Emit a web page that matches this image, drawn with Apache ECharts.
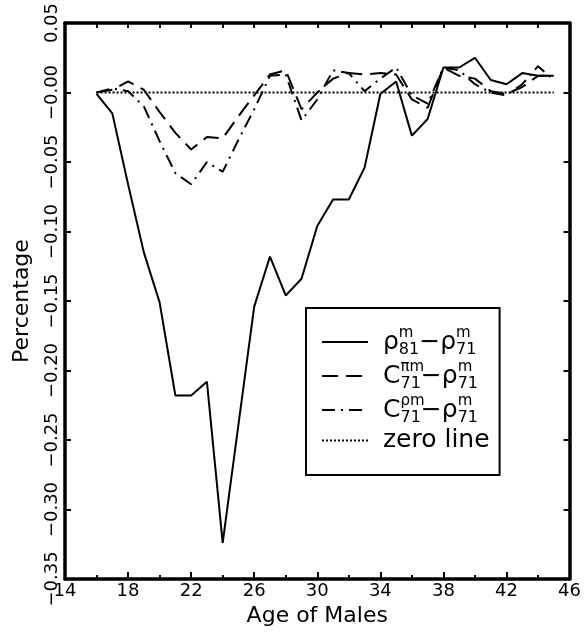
<!DOCTYPE html>
<html><head><meta charset="utf-8">
<script src="https://cdn.jsdelivr.net/npm/echarts@6/dist/echarts.min.js"></script>
<style>html,body{margin:0;padding:0;background:#fff}#c{width:584px;height:640px}</style>
</head><body><div id="c"></div>
<script>
const ages = [16,17,18,19,20,21,22,23,24,25,26,27,28,29,30,31,32,33,34,35,36,37,38,39,40,41,42,43,44,45];
const rhoDiff = [-0.001,-0.015,-0.066,-0.115,-0.151,-0.218,-0.218,-0.208,-0.324,-0.239,-0.154,-0.118,-0.146,-0.134,-0.096,-0.077,-0.077,-0.054,-0.001,0.008,-0.031,-0.019,0.018,0.018,0.025,0.009,0.006,0.014,0.012,0.012];
const cPiDiff = [0.000,0.002,0.008,0.002,-0.014,-0.029,-0.041,-0.032,-0.033,-0.017,-0.002,0.013,0.016,-0.012,0.000,0.010,0.014,0.013,0.014,0.013,-0.005,-0.011,0.018,0.012,0.010,0.001,-0.001,0.004,0.012,0.012];
const cRhoDiff = [0.000,0.003,0.001,-0.010,-0.035,-0.058,-0.066,-0.050,-0.057,-0.034,-0.012,0.012,0.013,-0.020,-0.005,0.016,0.014,0.001,0.010,0.018,-0.002,-0.008,0.018,0.016,0.006,0.000,-0.002,0.006,0.019,0.009];
const zeroLine = [0,0,0,0,0,0,0,0,0,0,0,0,0,0,0,0,0,0,0,0,0,0,0,0,0,0,0,0,0,0];
const xTickLabels = ['14','18','22','26','30','34','38','42','46'];
const yTickLabels = ['\u22120.35','\u22120.30','\u22120.25','\u22120.20','\u22120.15','\u22120.10','\u22120.05','\u22120.00','0.05'];
const seriesNames = ['rho81m-rho71m','Cpi71m-rho71m','Crho71m-rho71m','zero line'];
const legendLabels = [
  '{g|\u03c1}{sp|m}{sb|81}{g|\u2212\u03c1}{sp|m}{sb|71}',
  '{g|C}{sp|\u03c0m}{sb|71}{g|\u2212\u03c1}{sp|m}{sb|71}',
  '{g|C}{sp|\u03c1m}{sb|71}{g|\u2212\u03c1}{sp|m}{sb|71}',
  '{g|zero line}'
];

const FONT = 'DejaVu Sans';
const xMin = 14, xMax = 46, xStep = 4;
const yMin = -0.35, yMax = 0.05, yStep = 0.05;

function pairs(vals){ return ages.map((a,i)=>[a, vals[i]]); }
function xFmt(v){ const i = Math.round((v - xMin)/xStep); return xTickLabels[i] || ''; }
function yFmt(v){ const i = Math.round((v - yMin)/yStep); return yTickLabels[i] || ''; }

const axisLineStyle = {show:true, onZero:false, lineStyle:{color:'#000', width:3.5}};
const chart = echarts.init(document.getElementById('c'), null, {renderer:'canvas'});
chart.setOption({
  animation:false,
  backgroundColor:'#fff',
  grid:{left:65, right:12, top:20, bottom:61, containLabel:false},
  xAxis:[{
    type:'value', min:xMin, max:xMax, interval:xStep, position:'bottom',
    axisLine:axisLineStyle,
    axisTick:{show:true, inside:true, length:7, lineStyle:{color:'#000', width:2}},
    minorTick:{show:true, splitNumber:2, length:4, lineStyle:{color:'#000', width:2}},
    splitLine:{show:false}, minorSplitLine:{show:false},
    axisLabel:{formatter:xFmt, color:'#000', fontFamily:FONT, fontSize:18, margin:3},
    name:'Age of Males', nameLocation:'middle', nameGap:20,
    nameTextStyle:{color:'#000', fontFamily:FONT, fontSize:22}
  },{
    type:'value', min:xMin, max:xMax, interval:xStep/2, position:'top',
    axisLine:axisLineStyle,
    axisTick:{show:true, inside:true, length:5, lineStyle:{color:'#000', width:2}},
    splitLine:{show:false}, axisLabel:{show:false}
  }],
  yAxis:[{
    type:'value', min:yMin, max:yMax, interval:yStep, position:'left',
    axisLine:axisLineStyle,
    axisTick:{show:true, inside:true, length:6, lineStyle:{color:'#000', width:2}},
    splitLine:{show:false},
    axisLabel:{formatter:yFmt, rotate:90, color:'#000', fontFamily:FONT, fontSize:18, margin:4},
    name:'Percentage', nameLocation:'middle', nameGap:32, nameRotate:90,
    nameTextStyle:{color:'#000', fontFamily:FONT, fontSize:22}
  },{
    type:'value', min:yMin, max:yMax, interval:yStep, position:'right',
    axisLine:axisLineStyle,
    axisTick:{show:true, inside:true, length:6, lineStyle:{color:'#000', width:2}},
    splitLine:{show:false}, axisLabel:{show:false}
  }],
  legend:{
    orient:'vertical', left:306, top:308,
    padding:[18, 10, 22, 15],
    borderColor:'#000', borderWidth:2, backgroundColor:'#fff',
    itemWidth:46, itemHeight:14, itemGap:2,
    itemStyle:{color:'transparent', borderColor:'transparent', borderWidth:0, opacity:0},
    data:seriesNames,
    formatter:function(name){ return legendLabels[seriesNames.indexOf(name)]; },
    textStyle:{
      color:'#000', fontFamily:FONT, fontSize:25, padding:[0,0,0,10],
      rich:{
        g:{fontFamily:FONT, fontSize:25, color:'#000', lineHeight:32, verticalAlign:'middle'},
        sp:{fontFamily:FONT, fontSize:15, color:'#000', lineHeight:32, verticalAlign:'top', width:0, align:'left'},
        sb:{fontFamily:FONT, fontSize:16, color:'#000', lineHeight:32, verticalAlign:'bottom'}
      }
    }
  },
  series:[
    {name:seriesNames[0], type:'line', data:pairs(rhoDiff), symbol:'none', showSymbol:false,
     lineStyle:{color:'#000', width:2, type:'solid'}, itemStyle:{color:'#000'}, z:4},
    {name:seriesNames[1], type:'line', data:pairs(cPiDiff), symbol:'none', showSymbol:false,
     lineStyle:{color:'#000', width:2, type:[16,8]}, itemStyle:{color:'#000'}, z:3},
    {name:seriesNames[2], type:'line', data:pairs(cRhoDiff), symbol:'none', showSymbol:false,
     lineStyle:{color:'#000', width:2, type:[13,6,2,6]}, itemStyle:{color:'#000'}, z:3},
    {name:seriesNames[3], type:'line', data:pairs(zeroLine), symbol:'none', showSymbol:false,
     lineStyle:{color:'#000', width:2, type:[2,2]}, itemStyle:{color:'#000'}, z:2}
  ]
});
</script></body></html>
